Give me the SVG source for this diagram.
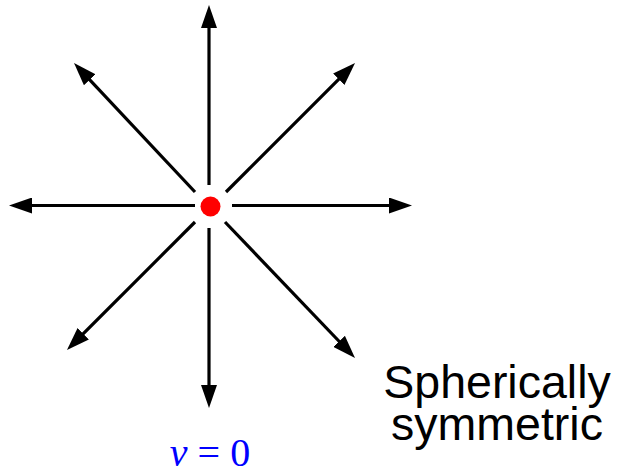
<svg xmlns="http://www.w3.org/2000/svg" width="623" height="471" viewBox="0 0 623 471">
<style>
.ray{stroke:#000;stroke-width:3.2;fill:none;marker-end:url(#ah)}
.lbl{font-family:"Liberation Sans",Arial,sans-serif;font-size:46.5px;fill:#000;text-anchor:middle}
.eq{font-family:"Liberation Serif","Times New Roman",serif;font-size:40px;fill:#0000ff;text-anchor:middle}
</style>
<defs>
<marker id="ah" markerUnits="userSpaceOnUse" markerWidth="24" markerHeight="16" refX="3" refY="8" orient="auto" viewBox="0 0 24 16">
<path d="M0,0 L23,8 L0,16 z" fill="#000"/>
</marker>
</defs>
<rect width="623" height="471" fill="#fff"/>
<g id="connectors">
<line class="ray" x1="209" y1="185" x2="209" y2="25"/>
<line class="ray" x1="209" y1="228" x2="209" y2="388"/>
<line class="ray" x1="195" y1="205.5" x2="29" y2="205.5"/>
<line class="ray" x1="232" y1="205.5" x2="392" y2="205.5"/>
<line class="ray" x1="195" y1="192" x2="87.7" y2="77.6"/>
<line class="ray" x1="226" y1="192" x2="340.9" y2="77.1"/>
<line class="ray" x1="225" y1="222" x2="341.2" y2="343.5"/>
<line class="ray" x1="195" y1="222" x2="81.1" y2="335.9"/>
</g>
<g id="source">
<circle cx="210.5" cy="206.5" r="10" fill="#ff0000"/>
</g>
<g id="label-v">
<text class="eq" x="210" y="466"><tspan font-style="italic">v</tspan> = 0</text>
</g>
<g id="label-sym">
<text class="lbl" x="497" y="398">Spherically</text>
<text class="lbl" x="497" y="440">symmetric</text>
</g>
</svg>
